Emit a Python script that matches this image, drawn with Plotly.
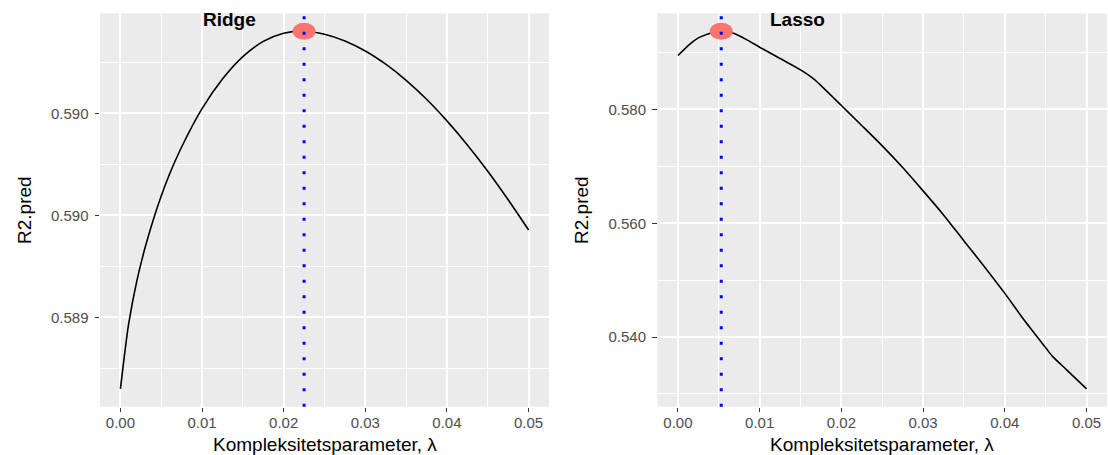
import plotly.graph_objects as go

# ---------------- data ----------------
ridge_lambda = [0.0, 0.0005, 0.001, 0.002, 0.003, 0.004, 0.005, 0.006, 0.0075,
                0.01, 0.0125, 0.015, 0.0175, 0.02, 0.0225, 0.025, 0.0275, 0.03,
                0.0325, 0.035, 0.0375, 0.04, 0.0425, 0.045, 0.0475, 0.05]
ridge_r2 = [0.588649, 0.588815, 0.588965, 0.589176, 0.589338, 0.589475, 0.589595,
            0.589700, 0.589835, 0.590023, 0.590168, 0.590278, 0.590353, 0.590393,
            0.590403, 0.590388, 0.590355, 0.590306, 0.590241, 0.590162, 0.590069,
            0.589963, 0.589845, 0.589716, 0.589576, 0.589428]

lasso_lambda = [0.0, 0.0015, 0.0025, 0.0035, 0.0045, 0.0053, 0.0068, 0.0085, 0.01,
                0.0125, 0.015, 0.0166, 0.02, 0.0223, 0.025, 0.0275, 0.03,
                0.0325, 0.035, 0.0375, 0.04, 0.0425, 0.045, 0.0458, 0.0475, 0.05]
lasso_r2 = [0.589488, 0.591538, 0.592592, 0.593200, 0.593620, 0.593763, 0.593411,
            0.592200, 0.590952, 0.588960, 0.586969, 0.585388, 0.580703,
            0.577450, 0.573600, 0.569800, 0.565700, 0.561470, 0.556900, 0.552380,
            0.547680, 0.542730, 0.538130, 0.536660, 0.534340, 0.530909]

ridge_best_lambda = 0.0225
ridge_best_r2 = 0.590403
lasso_best_lambda = 0.0053
lasso_best_r2 = 0.593763

panel_titles = ["Ridge", "Lasso"]
ridge_title_pos = (0.0134, 0.59046)
lasso_title_pos = (0.0146, 0.59585)

x_tickvals = [0.0, 0.01, 0.02, 0.03, 0.04, 0.05]
x_ticktext = ["0.00", "0.01", "0.02", "0.03", "0.04", "0.05"]
x_minor = [0.005, 0.015, 0.025, 0.035, 0.045]

ridge_yticks = [0.5890, 0.5895, 0.5900]
ridge_yticktext = ["0.589", "0.590", "0.590"]
ridge_yminor = [0.58875, 0.58925, 0.58975, 0.59025]

lasso_yticks = [0.54, 0.56, 0.58]
lasso_yticktext = ["0.540", "0.560", "0.580"]
lasso_yminor = [0.53, 0.55, 0.57, 0.59]

x_title = "Kompleksitetsparameter, λ"
y_title = "R2.pred"

# ---------------- helpers ----------------
def expand(vals, frac=0.05):
    lo, hi = min(vals), max(vals)
    pad = (hi - lo) * frac
    return [lo - pad, hi + pad]

W, H = 1108, 455
FONT = "Liberation Sans, Arial, Helvetica, sans-serif"
TICK_FONT = dict(family=FONT, size=15, color="#4D4D4D")
TITLE_FONT = dict(family=FONT, size=19, color="black")

left_dom = [100 / W, 549 / W]
right_dom = [657.5 / W, 1107 / W]
y_dom = [(H - 406.7) / H, (H - 13.3) / H]

LINE = dict(color="black", width=1.6, shape="spline", smoothing=0.7)

fig = go.Figure()
fig.add_trace(go.Scatter(x=ridge_lambda, y=ridge_r2, mode="lines", line=LINE,
                         xaxis="x", yaxis="y", showlegend=False, hoverinfo="skip"))
fig.add_trace(go.Scatter(x=lasso_lambda, y=lasso_r2, mode="lines", line=LINE,
                         xaxis="x2", yaxis="y2", showlegend=False, hoverinfo="skip"))

def xaxis_cfg(domain, anchor, lam):
    return dict(domain=domain, anchor=anchor, range=expand(lam),
                tickmode="array", tickvals=x_tickvals, ticktext=x_ticktext,
                ticks="outside", ticklen=4.5, tickwidth=1.4, tickcolor="#333333",
                tickfont=TICK_FONT, ticklabelstandoff=-2,
                showgrid=True, gridcolor="white", gridwidth=1.6,
                zeroline=False, showline=False,
                minor=dict(tickmode="array", tickvals=x_minor, showgrid=True,
                           gridcolor="white", gridwidth=0.8, ticks=""))

def yaxis_cfg(anchor, r2, ticks, text, minor):
    return dict(domain=y_dom, anchor=anchor, range=expand(r2),
                tickmode="array", tickvals=ticks, ticktext=text,
                ticks="outside", ticklen=4.5, tickwidth=1.4, tickcolor="#333333",
                tickfont=TICK_FONT, ticklabelstandoff=3,
                showgrid=True, gridcolor="white", gridwidth=1.6,
                zeroline=False, showline=False,
                minor=dict(tickmode="array", tickvals=minor, showgrid=True,
                           gridcolor="white", gridwidth=0.8, ticks=""))

shapes = []
for xr, yr, bl, br in [("x", "y", ridge_best_lambda, ridge_best_r2),
                       ("x2", "y2", lasso_best_lambda, lasso_best_r2)]:
    shapes.append(dict(type="circle", xref=xr, yref=yr, xsizemode="pixel", ysizemode="pixel",
                       xanchor=bl, yanchor=br, x0=-11.5, x1=11.5, y0=-8.5, y1=8.5,
                       fillcolor="#F8766D", line=dict(width=0), layer="above"))
    shapes.append(dict(type="line", xref=xr, yref=yr + " domain", x0=bl, x1=bl, y0=0, y1=1,
                       line=dict(color="#0000FF", width=3, dash="3px,12.5px"), layer="above"))

annotations = [
    dict(text="<b>%s</b>" % panel_titles[0], x=ridge_title_pos[0], y=ridge_title_pos[1],
         xref="x", yref="y", showarrow=False, font=dict(family=FONT, size=19, color="black")),
    dict(text="<b>%s</b>" % panel_titles[1], x=lasso_title_pos[0], y=lasso_title_pos[1],
         xref="x2", yref="y2", showarrow=False, font=dict(family=FONT, size=19, color="black")),
    dict(text=x_title, x=sum(left_dom) / 2, y=(H - 444) / H, xref="paper", yref="paper",
         showarrow=False, font=TITLE_FONT, xanchor="center", yanchor="middle"),
    dict(text=x_title, x=sum(right_dom) / 2, y=(H - 444) / H, xref="paper", yref="paper",
         showarrow=False, font=TITLE_FONT, xanchor="center", yanchor="middle"),
    dict(text=y_title, x=24 / W, y=(H - 210) / H, xref="paper", yref="paper", textangle=-90,
         showarrow=False, font=TITLE_FONT, xanchor="center", yanchor="middle"),
    dict(text=y_title, x=581 / W, y=(H - 210) / H, xref="paper", yref="paper", textangle=-90,
         showarrow=False, font=TITLE_FONT, xanchor="center", yanchor="middle"),
]

fig.update_layout(
    width=W, height=H, margin=dict(l=0, r=0, t=0, b=0),
    paper_bgcolor="white", plot_bgcolor="#EBEBEB",
    xaxis=xaxis_cfg(left_dom, "y", ridge_lambda),
    yaxis=yaxis_cfg("x", ridge_r2, ridge_yticks, ridge_yticktext, ridge_yminor),
    xaxis2=xaxis_cfg(right_dom, "y2", lasso_lambda),
    yaxis2=yaxis_cfg("x2", lasso_r2, lasso_yticks, lasso_yticktext, lasso_yminor),
    shapes=shapes, annotations=annotations, showlegend=False,
)

fig.write_html("out.html", config={"displayModeBar": False},
               post_script="document.body.style.margin='0px';document.body.style.overflow='hidden';")
